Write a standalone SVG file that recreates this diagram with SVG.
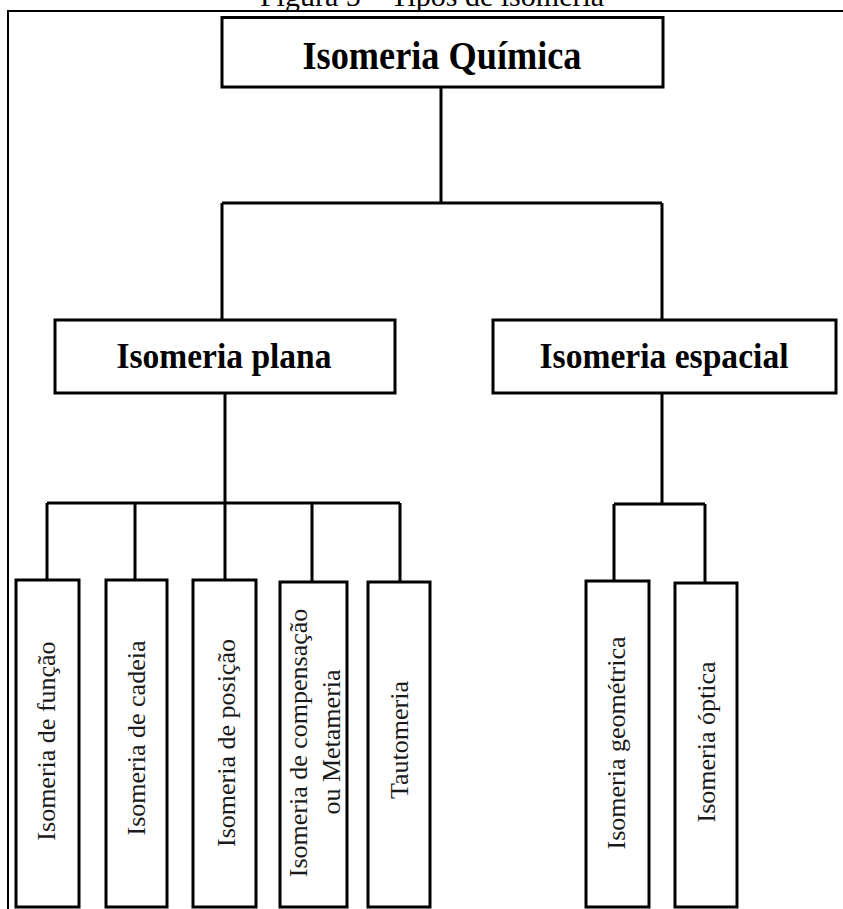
<svg xmlns="http://www.w3.org/2000/svg" width="843" height="909" viewBox="0 0 843 909">
<style>
.bg{fill:#fff}
.frame{fill:none;stroke:#000;stroke-width:2}
.box{fill:#fff;stroke:#000;stroke-width:3}
.conn{fill:none;stroke:#000;stroke-width:3}
.hb{font-family:"Liberation Serif","Times New Roman",serif;font-weight:bold;fill:#000;text-anchor:middle}
.vt{font-family:"Liberation Serif","Times New Roman",serif;font-size:26px;fill:#1a1a1a;text-anchor:middle}
.title{font-family:"Liberation Serif","Times New Roman",serif;font-size:30px;fill:#000;text-anchor:middle}
</style>
<rect class="bg" x="0" y="0" width="843" height="909"/>
<text class="title" x="432" y="6">Figura 5 – Tipos de isomeria</text>
<path class="frame" d="M8,909 V11 H843"/>
<g id="connectors">
  <path class="conn" d="M441,87 V203 M222,203 H662 M222,203 V320 M662,203 V320"/>
  <path class="conn" d="M225,393 V503 M47,503 H400 M47,503 V580 M135,503 V580 M225,503 V580 M312,503 V582 M400,503 V582"/>
  <path class="conn" d="M662,393 V504 M614,504 H705 M614,504 V581 M705,504 V583"/>
</g>
<g id="n-quimica">
  <rect class="box" x="222" y="17.5" width="441" height="69.5"/>
  <text class="hb" x="442" y="69" font-size="39" textLength="279" lengthAdjust="spacingAndGlyphs">Isomeria Química</text>
</g>
<g id="n-plana">
  <rect class="box" x="55" y="320" width="340" height="73"/>
  <text class="hb" x="224" y="368" font-size="35" textLength="215" lengthAdjust="spacingAndGlyphs">Isomeria plana</text>
</g>
<g id="n-espacial">
  <rect class="box" x="493" y="320" width="343" height="73"/>
  <text class="hb" x="664" y="368" font-size="35" textLength="249" lengthAdjust="spacingAndGlyphs">Isomeria espacial</text>
</g>
<g id="n-funcao">
  <rect class="box" x="16" y="580" width="63" height="327"/>
  <text class="vt" transform="translate(55,741) rotate(-90)">Isomeria de função</text>
</g>
<g id="n-cadeia">
  <rect class="box" x="106" y="580" width="61" height="327"/>
  <text class="vt" transform="translate(145,738) rotate(-90)">Isomeria de cadeia</text>
</g>
<g id="n-posicao">
  <rect class="box" x="193" y="580" width="63" height="327"/>
  <text class="vt" transform="translate(235,743) rotate(-90)">Isomeria de posição</text>
</g>
<g id="n-compensacao">
  <rect class="box" x="280" y="582" width="67" height="325"/>
  <text class="vt" transform="translate(307,743) rotate(-90)">Isomeria de compensação</text>
  <text class="vt" transform="translate(340,742) rotate(-90)">ou Metameria</text>
</g>
<g id="n-tautomeria">
  <rect class="box" x="368" y="582" width="62" height="325"/>
  <text class="vt" transform="translate(408,740) rotate(-90)">Tautomeria</text>
</g>
<g id="n-geometrica">
  <rect class="box" x="586" y="581" width="63" height="326"/>
  <text class="vt" transform="translate(625,743) rotate(-90)">Isomeria geométrica</text>
</g>
<g id="n-optica">
  <rect class="box" x="675" y="583" width="62" height="324"/>
  <text class="vt" transform="translate(715,742) rotate(-90)">Isomeria óptica</text>
</g>
</svg>
